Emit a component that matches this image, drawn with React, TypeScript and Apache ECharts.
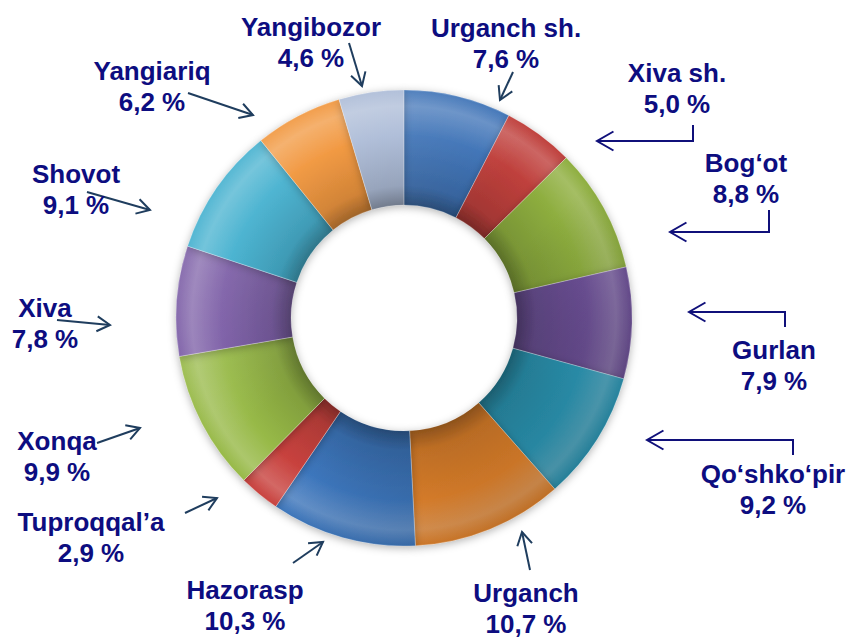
import React, { useEffect, useRef } from "react";
import * as echarts from "echarts";

// ---- data ----
const names = [
  "Urganch sh.",
  "Xiva sh.",
  "Bog\u2018ot",
  "Gurlan",
  "Qo\u2018shko\u2018pir",
  "Urganch",
  "Hazorasp",
  "Tuproqqal\u2019a",
  "Xonqa",
  "Xiva",
  "Shovot",
  "Yangiariq",
  "Yangibozor",
];
const shares = [7.6, 5.0, 8.8, 7.9, 9.2, 10.7, 10.3, 2.9, 9.9, 7.8, 9.1, 6.2, 4.6];

// ---- styles ----
const sliceColors = [
  "#3d72b6",
  "#bf403c",
  "#8eae3f",
  "#6f529a",
  "#2e9fbf",
  "#ee8a2e",
  "#3e78bf",
  "#c8423e",
  "#97b947",
  "#7758a3",
  "#35aacb",
  "#f08d2c",
  "#a8b8d5",
];

// label block centre and arrow path (last point = arrow tip)
const labelLayout = [
  { cx: 506, cy: 43, arrow: [[513, 72], [500, 100]], navy: false },
  { cx: 677, cy: 88, arrow: [[693, 125], [693, 141], [597, 141]], navy: true },
  { cx: 746, cy: 178, arrow: [[769, 210], [769, 232], [670, 232]], navy: true },
  { cx: 774, cy: 365, arrow: [[785, 327], [785, 312], [689, 312]], navy: true },
  { cx: 773, cy: 489, arrow: [[793, 455], [793, 440], [647, 440]], navy: true },
  { cx: 526, cy: 608, arrow: [[530, 570], [522, 532]], navy: false },
  { cx: 245, cy: 605, arrow: [[293, 563], [323, 542]], navy: false },
  { cx: 91, cy: 537, arrow: [[185, 513], [217, 498]], navy: false },
  { cx: 57, cy: 456, arrow: [[97, 443], [140, 428]], navy: false },
  { cx: 45, cy: 323, arrow: [[57, 320], [110, 325]], navy: false },
  { cx: 76, cy: 189, arrow: [[87, 192], [150, 210]], navy: false },
  { cx: 152, cy: 86, arrow: [[188, 93], [253, 115]], navy: false },
  { cx: 311, cy: 42, arrow: [[349, 43], [362, 86]], navy: false },
];

const CX = 404;
const CY = 318;
const R_OUT = 228;
const R_IN = 113;
const TEXT_COLOR = "#0d0d80";
const NAVY_ARROW = "#10107a";
const SLATE_ARROW = "#1f3d5e";

function shade(hex: string, amt: number): string {
  const n = parseInt(hex.slice(1), 16);
  let r = (n >> 16) & 255;
  let g = (n >> 8) & 255;
  let b = n & 255;
  const t = amt < 0 ? 0 : 255;
  const p = Math.abs(amt);
  r = Math.round((t - r) * p + r);
  g = Math.round((t - g) * p + g);
  b = Math.round((t - b) * p + b);
  return "rgb(" + r + "," + g + "," + b + ")";
}

function fmt(v: number): string {
  return v.toFixed(1).replace(".", ",") + " %";
}

function arrowElements(points: number[][], color: string, headLen: number) {
  const n = points.length;
  const tip = points[n - 1];
  const prev = points[n - 2];
  const ang = Math.atan2(tip[1] - prev[1], tip[0] - prev[0]);
  const spread = (30 * Math.PI) / 180;
  const p1 = [tip[0] - headLen * Math.cos(ang - spread), tip[1] - headLen * Math.sin(ang - spread)];
  const p2 = [tip[0] - headLen * Math.cos(ang + spread), tip[1] - headLen * Math.sin(ang + spread)];
  return [
    {
      type: "polyline",
      shape: { points },
      style: { stroke: color, lineWidth: 2, fill: null },
      silent: true,
    },
    {
      type: "polyline",
      shape: { points: [p1, tip, p2] },
      style: { stroke: color, lineWidth: 2, fill: null },
      silent: true,
    },
  ];
}

export default function App() {
  const ref = useRef<HTMLDivElement>(null);

  useEffect(() => {
    document.body.style.margin = "0";
    if (!ref.current) return;
    const chart = echarts.init(ref.current, null, { renderer: "svg" });

    const mainData = names.map((name, i) => {
      const c = sliceColors[i];
      return {
        name,
        value: shares[i],
        itemStyle: {
          color: {
            type: "radial",
            x: CX,
            y: CY,
            r: R_OUT,
            global: true,
            colorStops: [
              { offset: 0.49, color: shade(c, -0.38) },
              { offset: 0.58, color: shade(c, -0.14) },
              { offset: 0.8, color: c },
              { offset: 0.93, color: shade(c, 0.2) },
              { offset: 1, color: shade(c, 0.0) },
            ],
          },
        },
      };
    });

    const overlayData = names.map((name, i) => ({ name, value: shares[i] }));

    const graphics: any[] = [];
    labelLayout.forEach((l, i) => {
      graphics.push(
        ...arrowElements(l.arrow, l.navy ? NAVY_ARROW : SLATE_ARROW, l.navy ? 19 : 15)
      );
      graphics.push({
        type: "text",
        x: l.cx,
        y: l.cy,
        silent: true,
        style: {
          text: names[i] + "\n" + fmt(shares[i]),
          fill: TEXT_COLOR,
          fontSize: 26,
          fontWeight: "bold",
          fontFamily: "'Liberation Sans', Arial, sans-serif",
          align: "center",
          verticalAlign: "middle",
          lineHeight: 31,
        },
      });
    });

    chart.setOption({
      animation: false,
      backgroundColor: "#ffffff",
      series: [
        {
          type: "pie",
          name: "main",
          center: [CX, CY],
          radius: [R_IN, R_OUT],
          startAngle: 90,
          clockwise: true,
          silent: true,
          label: { show: false },
          labelLine: { show: false },
          itemStyle: {
            borderWidth: 0,
            shadowBlur: 8,
            shadowColor: "rgba(0,0,0,0.3)",
            shadowOffsetY: 2,
          },
          data: mainData,
          z: 2,
        },
        {
          type: "pie",
          name: "lighting",
          center: [CX, CY],
          radius: [R_IN, R_OUT],
          startAngle: 90,
          clockwise: true,
          silent: true,
          label: { show: false },
          labelLine: { show: false },
          itemStyle: {
            borderWidth: 0.6,
            borderColor: "rgba(255,255,255,0.35)",
            color: {
              type: "linear",
              x: CX - R_OUT,
              y: CY - R_OUT,
              x2: CX + R_OUT,
              y2: CY + R_OUT,
              global: true,
              colorStops: [
                { offset: 0, color: "rgba(255,255,255,0.25)" },
                { offset: 0.45, color: "rgba(255,255,255,0)" },
                { offset: 0.55, color: "rgba(0,0,0,0)" },
                { offset: 1, color: "rgba(0,0,0,0.3)" },
              ],
            },
          },
          data: overlayData,
          z: 3,
        },
      ],
      graphic: { elements: graphics },
    });

    return () => {
      chart.dispose();
    };
  }, []);

  return <div ref={ref} style={{ width: 850, height: 640 }} />;
}
